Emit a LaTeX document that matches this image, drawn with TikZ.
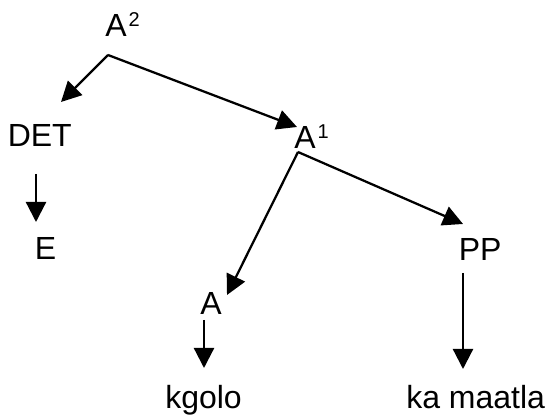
\documentclass[tikz,border=0pt]{standalone}
\usepackage{fontspec}
\setmainfont{Liberation Sans}
\usetikzlibrary{arrows.meta}
\newcommand{\supnum}[1]{\kern1.5pt\raisebox{8pt}{\fontsize{15}{15}\selectfont #1}}
\begin{document}
\begin{tikzpicture}[x=0.75pt,y=-0.75pt,
  lbl/.style={anchor=base west,inner sep=0pt,font=\fontsize{24}{28}\selectfont},
  conn/.style={line width=1.7pt,-{Triangle[length=15pt,width=15pt]}}]
\useasboundingbox (0,0) rectangle (546,416);
% labels
\node[lbl] (a2) at (105,37) {A\supnum{2}};
\node[lbl] (det) at (7.5,147) {DET};
\node[lbl] (a1) at (294,149) {A\supnum{1}};
\node[lbl] (e) at (34.5,260) {E};
\node[lbl] (pp) at (458.5,261) {PP};
\node[lbl] (a) at (200,315) {A};
\node[lbl] (kgolo) at (165,408) {kgolo};
\node[lbl] (maatla) at (406,408) {ka maatla};
% connector end points
\coordinate (a2out) at (108,55);
\coordinate (detin) at (61,102);
\coordinate (a1in) at (297,127);
\coordinate (detout) at (36,174);
\coordinate (ein) at (36,222);
\coordinate (a1out) at (298,152);
\coordinate (ain) at (227,295);
\coordinate (ppin) at (463,224);
\coordinate (aout) at (204,320);
\coordinate (kgoloin) at (204,368);
\coordinate (ppout) at (463,273);
\coordinate (maatlain) at (463,369);
% connectors
\draw[conn] (a2out) -- (detin);
\draw[conn] (a2out) -- (a1in);
\draw[conn] (detout) -- (ein);
\draw[conn] (a1out) -- (ain);
\draw[conn] (a1out) -- (ppin);
\draw[conn] (aout) -- (kgoloin);
\draw[conn] (ppout) -- (maatlain);
\end{tikzpicture}
\end{document}
